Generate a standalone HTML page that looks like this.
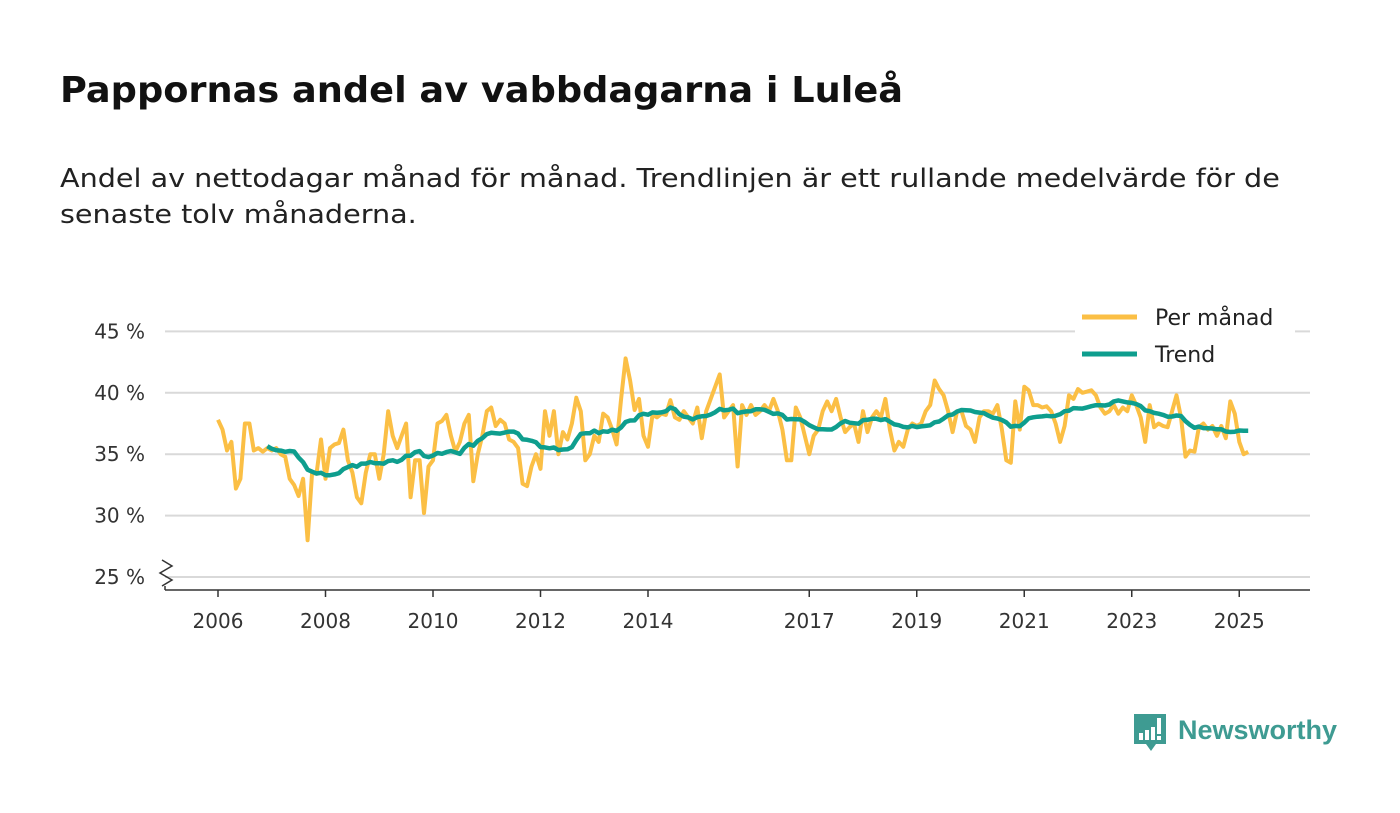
<!DOCTYPE html>
<html><head><meta charset="utf-8"><style>
body{margin:0;width:1400px;height:813px;background:#fff;font-family:"DejaVu Sans","Liberation Sans",sans-serif;overflow:hidden;position:relative}
.t{position:absolute;left:60px;white-space:nowrap;transform-origin:0 0;margin:0}
#title{top:70px;font-size:36px;font-weight:bold;color:#111}
#sub1{top:164px;font-size:26px;color:#222}
#sub2{top:200px;font-size:26px;color:#222}
svg{position:absolute;left:0;top:0}
</style></head><body>
<h1 id="title" class="t">Pappornas andel av vabbdagarna i Luleå</h1>
<div id="sub1" class="t">Andel av nettodagar månad för månad. Trendlinjen är ett rullande medelvärde för de</div>
<div id="sub2" class="t">senaste tolv månaderna.</div>
<svg id="chart" width="1400" height="813"></svg>
<script>
(function(){
  const ti=document.getElementById('title');ti.style.transform='scaleX('+(843/ti.offsetWidth)+')';
  const s1=document.getElementById('sub1');const sc=1220/s1.offsetWidth;
  s1.style.transform='scaleX('+sc+')';
  document.getElementById('sub2').style.transform='scaleX('+sc+')';
})();
const yTicks=[25,30,35,40,45];
const xTickYears=[2006,2008,2010,2012,2014,2017,2019,2021,2023,2025];
const startYear=2006;
const monthly=[
37.8,37.0,35.3,36.0,32.2,33.0,37.5,37.5,35.3,35.5,35.2,35.5,
35.3,35.5,35.0,34.8,33.0,32.5,31.6,33.0,28.0,33.5,33.4,36.2,
33.0,35.5,35.8,35.9,37.0,34.5,33.5,31.5,31.0,33.5,35.0,35.0,
33.0,35.0,38.5,36.5,35.5,36.5,37.5,31.5,34.5,34.5,30.2,34.0,
34.5,37.5,37.7,38.2,36.5,35.2,36.0,37.5,38.2,32.8,35.0,36.5,
38.5,38.8,37.3,37.8,37.5,36.2,36.0,35.5,32.6,32.4,34.0,35.0,
33.8,38.5,36.5,38.5,35.0,36.8,36.2,37.5,39.6,38.5,34.5,35.0,
36.5,36.0,38.3,38.0,37.0,35.8,39.5,42.8,41.0,38.6,39.5,36.5,
35.6,38.2,38.0,38.3,38.2,39.4,38.0,37.8,38.5,38.0,37.5,38.8,
36.3,38.5,39.5,40.5,41.5,38.0,38.5,39.0,34.0,39.0,38.2,39.0,
38.2,38.5,39.0,38.5,39.5,38.5,37.0,34.5,34.5,38.8,38.0,36.5,
35.0,36.5,37.0,38.5,39.3,38.5,39.5,38.0,36.8,37.2,37.5,36.0,
38.5,36.8,38.0,38.5,38.0,39.5,37.0,35.3,36.0,35.6,37.0,37.5,
37.3,37.5,38.5,39.0,41.0,40.3,39.8,38.5,36.8,38.5,38.5,37.3,
37.0,36.0,38.0,38.5,38.5,38.3,39.0,37.0,34.5,34.3,39.3,37.0,
40.5,40.2,39.0,39.0,38.8,38.9,38.5,37.5,36.0,37.3,39.8,39.5,
40.3,40.0,40.1,40.2,39.8,38.8,38.3,38.5,39.0,38.3,38.8,38.5,
39.8,39.0,38.0,36.0,39.0,37.2,37.5,37.3,37.2,38.5,39.8,38.0,
34.8,35.3,35.2,37.2,37.5,37.0,37.3,36.5,37.3,36.3,39.3,38.3,
36.0,35.0,35.2];
const legendLabels=["Per månad","Trend"];

const NS="http://www.w3.org/2000/svg";
const svg=document.getElementById('chart');
const x0=218, pxPerYear=53.75;
function xScale(t){return x0+(t-startYear)*pxPerYear;}
function yScale(v){return 577-(v-25)*12.28;}
function mk(tag,attrs,parent){const e=document.createElementNS(NS,tag);for(const k in attrs)e.setAttribute(k,attrs[k]);(parent||svg).appendChild(e);return e;}
const FF='DejaVu Sans, Liberation Sans, sans-serif';
yTicks.forEach(v=>{
  const g=mk('line',{x1:165,x2:1310,y1:yScale(v),y2:yScale(v),stroke:'#d9d9d9','stroke-width':2});
  
  
  const t=mk('text',{x:145,y:yScale(v)+7,'text-anchor':'end','font-size':20,fill:'#333','font-family':FF});
  t.textContent=v+' %';
  
  
});
const zz=mk('polyline',{points:'162,560 172,566 160,573 172,580 162,586',fill:'none',stroke:'#333','stroke-width':1.5});


const ax=mk('line',{x1:165,x2:1310,y1:590,y2:590,stroke:'#333','stroke-width':1.5});


const ax2=mk('line',{x1:165,x2:165,y1:586,y2:590,stroke:'#333','stroke-width':1.5});


xTickYears.forEach(yv=>{
  const x=xScale(yv);
  const tk=mk('line',{x1:x,x2:x,y1:590,y2:597,stroke:'#333','stroke-width':1.5});
  
  
  const t=mk('text',{x:x,y:628,'text-anchor':'middle','font-size':20,fill:'#333','font-family':FF});
  t.textContent=yv;
  
  
});
const mPts=monthly.map((v,i)=>xScale(startYear+i/12).toFixed(1)+','+yScale(v).toFixed(1)).join(' ');
const ml=mk('polyline',{points:mPts,fill:'none',stroke:'#fbbf45','stroke-width':4,'stroke-linejoin':'round'});


const trend=[];
for(let i=11;i<monthly.length;i++){let s=0;for(let j=i-11;j<=i;j++)s+=monthly[j];trend.push([i,s/12]);}
const tPts=trend.map(p=>xScale(startYear+p[0]/12).toFixed(1)+','+yScale(p[1]).toFixed(1)).join(' ');
const tl=mk('polyline',{points:tPts,fill:'none',stroke:'#0e9e8e','stroke-width':4.5,'stroke-linejoin':'round'});


const lc=['#fbbf45','#0e9e8e'];
legendLabels.forEach((lab,i)=>{
  const y=317+i*37;
  const bg=mk('rect',{x:1075,y:y-17,width:220,height:34,fill:'#fff'});
  
  
  const l=mk('line',{x1:1082,x2:1137,y1:y,y2:y,stroke:lc[i],'stroke-width':5});
  
  
  const t=mk('text',{x:1155,y:y+8,'font-size':22,fill:'#222','font-family':FF});
  t.textContent=lab;
  
  
});
const lg=mk('g',{});


mk('path',{d:'M1134,714 h32 v30 h-10 l-5,7 l-5,-7 h-12 z',fill:'#3e9b92'},lg);
mk('rect',{x:1139,y:733,width:4,height:7,fill:'#fff'},lg);
mk('rect',{x:1145,y:730,width:4,height:10,fill:'#fff'},lg);
mk('rect',{x:1151,y:727,width:4,height:13,fill:'#fff'},lg);
mk('rect',{x:1157,y:718,width:4,height:16,fill:'#fff'},lg);
mk('rect',{x:1157,y:736,width:4,height:4,fill:'#fff'},lg);
const lt=mk('text',{x:1178,y:739,'font-size':27,'font-weight':'bold',fill:'#3e9b92','font-family':'Liberation Sans, sans-serif'},lg);
lt.textContent='Newsworthy';
</script>
</body></html>
